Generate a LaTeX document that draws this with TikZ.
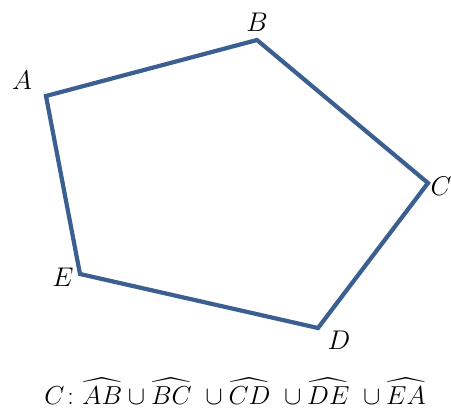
\RequirePackage{fix-cm}
\documentclass[tikz,border=0pt]{standalone}
\usepackage{amsmath}
\usepackage{amssymb}
\usepackage{xcolor}
\usetikzlibrary{positioning}
\definecolor{edgeblue}{HTML}{3B5F91}
\begin{document}
\begin{tikzpicture}[x=1pt,y=-1pt,
		vertexlabel/.style={font=\fontsize{27}{30}\selectfont, inner sep=0pt},
		arcunion/.style={font=\fontsize{26}{30}\selectfont, inner sep=0pt},
		edge/.style={edgeblue, line width=4.2pt, line join=miter}]
		
		\useasboundingbox (0,0) rectangle (451,410);
		
		% Vertices of the pentagon
		\coordinate (A) at (46,96);
		\coordinate (B) at (257,40);
		\coordinate (C) at (428,183);
		\coordinate (D) at (318,328);
		\coordinate (E) at (80,274);
		
		% Boundary
		\draw[edge] (A) -- (B) -- (C) -- (D) -- (E) -- cycle;
		
		% Vertex names
		\node[vertexlabel] (lA) at (22,80) {$A$};
		\node[vertexlabel] (lB) at (257,22) {$B$};
		\node[vertexlabel] (lC) at (441,186) {$C$};
		\node[vertexlabel] (lD) at (339,340) {$D$};
		\node[vertexlabel] (lE) at (63,277) {$E$};
		
		% Curve as union of arcs
		\node[arcunion] (curve) at (235,391) {$C\colon \widehat{AB}\cup\widehat{BC}\ \cup\widehat{CD}\ \cup\widehat{DE}\ \cup\widehat{EA}$};
		
	\end{tikzpicture}
\end{document}
